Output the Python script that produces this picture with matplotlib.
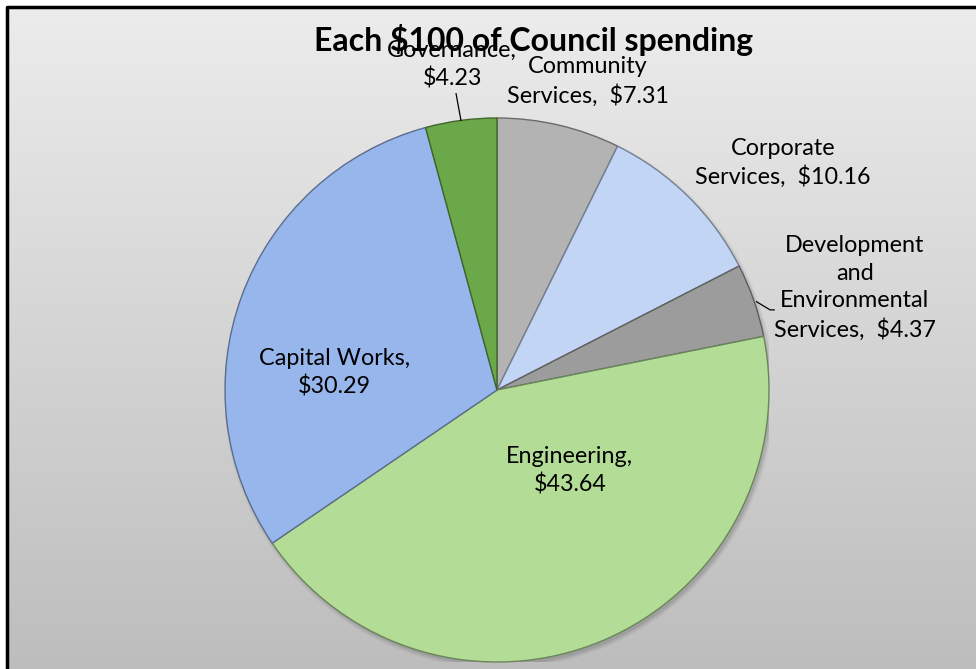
import numpy as np
import matplotlib
matplotlib.use('Agg')
import matplotlib.pyplot as plt
from matplotlib.patches import Circle
import matplotlib.colors as mcolors

# Chart data
categories = ['Community Services', 'Corporate Services',
              'Development and Environmental Services', 'Engineering',
              'Capital Works', 'Governance']
values = [7.31, 10.16, 4.37, 43.64, 30.29, 4.23]
labels = ['Community\nServices,  $7.31', 'Corporate\nServices,  $10.16',
          'Development\nand\nEnvironmental\nServices,  $4.37',
          'Engineering,\n$43.64', 'Capital Works,\n$30.29',
          'Governance,\n$4.23']
colors = ['#b3b3b3', '#c2d5f4', '#9c9c9c', '#b3dd97', '#97b6eb', '#6aa84a']

# label positions (pie data units, radius = 1)
label_pos = [(0.335, 1.135), (1.051, 0.835), (1.316, 0.375),
             (0.268, -0.298), (-0.596, 0.062), (-0.165, 1.195)]
leaders = {5: 'straight', 2: 'elbow'}

W, H = 976, 669
fig = plt.figure(figsize=(W / 100, H / 100), dpi=100)
fig.patch.set_facecolor('white')

# background panel with vertical gradient
bg = fig.add_axes([0, 0, 1, 1])
bg.set_xlim(0, W)
bg.set_ylim(H, 0)
bg.axis('off')
grad = np.linspace(0, 1, 256).reshape(-1, 1)
cmap = mcolors.LinearSegmentedColormap.from_list('bg', ['#ececec', '#bdbdbd'])
bg.imshow(grad, cmap=cmap, extent=[8, W + 5, H, 8], aspect='auto', zorder=0)
bg.plot([7, 7, W + 5], [H + 5, 7, 7], color='black', lw=2.5, zorder=2,
        solid_capstyle='butt')

bg.text(534, 40, 'Each $100 of Council spending', ha='center', va='center',
        fontsize=23, fontweight='bold', family='Lato', zorder=5)

# pie axes: center (497, 390), radius 272 px
cx, cy, r = 497, 390, 272
ax = fig.add_axes([(cx - r) / W, (H - cy - r) / H, 2 * r / W, 2 * r / H])

# soft shadow behind the pie
for i, a in enumerate([0.04, 0.06, 0.08]):
    ax.add_patch(Circle((0.008, -0.012), 1.0 + 0.006 * (2 - i),
                        color='black', alpha=a, lw=0, zorder=0))

edge = [tuple(np.array(mcolors.to_rgb(c)) * 0.6) for c in colors]
wedges, _ = ax.pie(values, colors=colors, startangle=90, counterclock=False,
                   radius=1.0, wedgeprops=dict(linewidth=1.0))
for w, e in zip(wedges, edge):
    w.set_edgecolor(e)
    w.set_zorder(2)
    w.set_clip_on(False)
ax.set_xlim(-1, 1)
ax.set_ylim(-1, 1)
ax.set_aspect('equal')
ax.axis('off')

for i, (w, lab, (lx, ly)) in enumerate(zip(wedges, labels, label_pos)):
    ax.text(lx, ly, lab, ha='center', va='center', fontsize=16.8,
            family='Lato', linespacing=1.37, zorder=5, clip_on=False)
    if i in leaders:
        mid = np.deg2rad((w.theta1 + w.theta2) / 2)
        x0, y0 = np.cos(mid), np.sin(mid)
        if leaders[i] == 'straight':
            ax.plot([x0, x0 - 0.018], [y0, y0 + 0.098], color='black',
                    lw=0.9, clip_on=False, zorder=4)
        else:
            ax.plot([x0 + 0.01, x0 + 0.06, x0 + 0.075],
                    [y0 - 0.005, y0 - 0.035, y0 - 0.035], color='black',
                    lw=0.9, clip_on=False, zorder=4)

fig.savefig('out.png', dpi=100)
